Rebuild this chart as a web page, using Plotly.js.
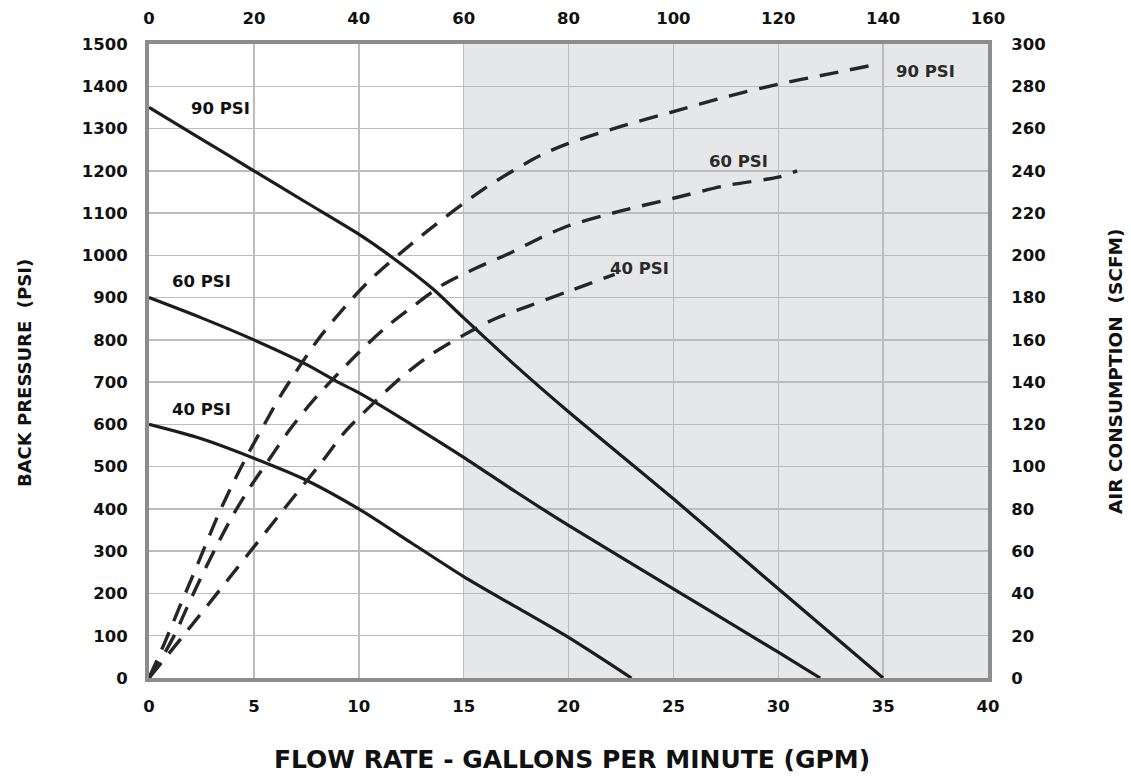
<!DOCTYPE html>
<html>
<head>
<meta charset="utf-8">
<script src="https://cdn.plot.ly/plotly-3.0.1.min.js"></script>
<style>html,body{margin:0;padding:0;background:#fff;}#chart{width:1131px;height:780px;}</style>
</head>
<body>
<div id="chart"></div>
<script>
// Flow rate (GPM) vs back pressure (PSI) — solid curves
const gpm90 = [0, 2.5, 5, 7.5, 10, 11.6, 13.5, 15, 17.5, 20, 25, 30, 35];
const psi90 = [1350, 1275, 1200, 1125, 1050, 995, 922, 852, 738, 630, 424, 211, 0];
const gpm60 = [0, 2.5, 5, 7.5, 9, 10, 12.5, 15, 17.5, 20, 25, 30, 32];
const psi60 = [900, 852, 800, 742, 700, 675, 600, 522, 440, 361, 211, 61, 0];
const gpm40 = [0, 2.5, 5, 7.5, 10, 12.5, 15, 17.5, 20, 23];
const psi40 = [600, 566, 520, 468, 400, 320, 240, 168, 96, 0];

// Flow rate (GPM) vs air consumption (SCFM) — dashed curves
const airGpm90 = [0, 0.76, 1.39, 2.03, 2.66, 3.29, 4.0, 4.72, 5.5, 6.3, 8.2, 10.4, 12.96, 15.9, 18.6, 20, 22.5, 25, 27.5, 30, 32.5, 34.5];
const scfm90   = [0, 17, 32, 47, 62, 77, 92, 106, 120, 134, 162, 187, 209, 231, 247, 253, 261, 268, 275, 281, 286, 290];
const airGpm60 = [0, 0.7, 1.3, 1.75, 2.45, 3.2, 4.0, 4.8, 5.7, 6.6, 7.8, 10, 11.3, 12.6, 14, 15.6, 17.2, 18.6, 20, 22.5, 25, 27.5, 30, 30.9];
const scfm60   = [0, 11, 22, 32, 47, 62, 77, 90, 103, 116, 131, 154, 166, 176, 186, 194, 201, 208, 214, 221, 227, 233, 237, 240];
const airGpm40 = [0, 2.2, 4.2, 6.2, 8.3, 9.3, 10.8, 12.0, 13.44, 14.95, 16.5, 18.1, 20, 22.2];
const scfm40   = [0, 27, 52, 77, 103, 116, 131, 142, 153, 162, 170, 176, 183, 191];

// Axis ticks
const gpmTicks = [0, 5, 10, 15, 20, 25, 30, 35, 40];
const lpmTicks = [0, 20, 40, 60, 80, 100, 120, 140, 160];
const psiTicks = [0, 100, 200, 300, 400, 500, 600, 700, 800, 900, 1000, 1100, 1200, 1300, 1400, 1500];
const scfmTicks = [0, 20, 40, 60, 80, 100, 120, 140, 160, 180, 200, 220, 240, 260, 280, 300];

// Curve labels
const labelText = ['90 PSI', '60 PSI', '40 PSI', '90 PSI', '60 PSI', '40 PSI'];
const labelX = [3.4, 2.48, 2.48, 37.0, 28.1, 23.4];
const labelY = [1348, 939, 636, 1434, 1221, 968];

// Axis titles
const titleX = 'FLOW RATE - GALLONS PER MINUTE (GPM)';
const titleY = 'BACK PRESSURE\u00A0\u00A0(PSI)';
const titleY2 = 'AIR CONSUMPTION\u00A0\u00A0(SCFM)';

const FONT = 'DejaVu Sans, Arial, sans-serif';
const ink = '#1c1c1c';

const solid = (x, y, name) => ({x, y, name, type: 'scatter', mode: 'lines', xaxis: 'x', yaxis: 'y',
  line: {color: ink, width: 3.2, shape: 'spline', smoothing: 0.8}, hoverinfo: 'skip', showlegend: false});
const dashed = (x, y, name) => ({x, y, name, type: 'scatter', mode: 'lines', xaxis: 'x', yaxis: 'y2',
  line: {color: '#262626', width: 3.4, dash: '19px,12px', shape: 'spline', smoothing: 0.8}, hoverinfo: 'skip', showlegend: false});

const data = [
  dashed(airGpm90, scfm90, 'Air 90 PSI'),
  dashed(airGpm60, scfm60, 'Air 60 PSI'),
  dashed(airGpm40, scfm40, 'Air 40 PSI'),
  solid(gpm90, psi90, '90 PSI'),
  solid(gpm60, psi60, '60 PSI'),
  solid(gpm40, psi40, '40 PSI'),
  {x: [0, 160], y: [0, 0], xaxis: 'x2', yaxis: 'y', type: 'scatter', mode: 'lines',
   line: {width: 0, color: 'rgba(0,0,0,0)'}, hoverinfo: 'skip', showlegend: false}
];

const tickFont = {family: FONT, size: 16.5, color: '#111', weight: 'bold'};
const axisLine = {showline: true, linecolor: '#8c8c8c', linewidth: 4, zeroline: false};

const annotations = labelText.map((t, i) => ({
  x: labelX[i], y: labelY[i], xref: 'x', yref: 'y', text: '<b>' + t + '</b>', showarrow: false,
  font: {family: FONT, size: 16.5, color: i < 3 ? '#111' : '#2a2a2a'}, xanchor: 'center', yanchor: 'middle'
}));
annotations.push(
  {x: 0.504, y: -0.1293, xref: 'paper', yref: 'paper', text: '<b>' + titleX + '</b>', showarrow: false,
   font: {family: FONT, size: 25, color: '#111'}, xanchor: 'center', yanchor: 'middle'},
  {x: -0.149, y: 0.481, xref: 'paper', yref: 'paper', text: '<b>' + titleY + '</b>', showarrow: false, textangle: -90,
   font: {family: FONT, size: 18, color: '#111'}, xanchor: 'center', yanchor: 'middle'},
  {x: 1.1514, y: 0.4826, xref: 'paper', yref: 'paper', text: '<b>' + titleY2 + '</b>', showarrow: false, textangle: -90,
   font: {family: FONT, size: 18.5, color: '#111'}, xanchor: 'center', yanchor: 'middle'}
);

const layout = {
  width: 1131, height: 780,
  margin: {l: 149, r: 143, t: 44, b: 102},
  paper_bgcolor: '#ffffff', plot_bgcolor: '#ffffff',
  showlegend: false,
  xaxis: Object.assign({range: [0, 40], tickvals: gpmTicks, ticktext: gpmTicks.map(String),
    showgrid: true, gridcolor: '#bcbcbc', gridwidth: 1.5, ticks: 'outside', ticklen: 10, tickcolor: 'rgba(0,0,0,0)',
    tickfont: tickFont}, axisLine),
  xaxis2: Object.assign({range: [0, 160], tickvals: lpmTicks, ticktext: lpmTicks.map(String), overlaying: 'x', side: 'top',
    showgrid: false, ticks: 'outside', ticklen: 9, tickcolor: 'rgba(0,0,0,0)', tickfont: tickFont}, axisLine),
  yaxis: Object.assign({range: [0, 1500], tickvals: psiTicks, ticktext: psiTicks.map(String),
    showgrid: true, gridcolor: '#bcbcbc', gridwidth: 1.5, ticks: 'outside', ticklen: 14, tickcolor: 'rgba(0,0,0,0)',
    tickfont: tickFont}, axisLine),
  yaxis2: Object.assign({range: [0, 300], tickvals: scfmTicks, ticktext: scfmTicks.map(String), overlaying: 'y', side: 'right',
    showgrid: false, ticks: 'outside', ticklen: 16, tickcolor: 'rgba(0,0,0,0)', tickfont: tickFont}, axisLine),
  shapes: [{type: 'rect', xref: 'x', yref: 'paper', x0: 15, x1: 40, y0: 0, y1: 1,
    fillcolor: '#e6e7e9', line: {width: 0}, layer: 'below'}],
  annotations: annotations
};

Plotly.newPlot('chart', data, layout, {staticPlot: true, displayModeBar: false});
</script>
</body>
</html>
